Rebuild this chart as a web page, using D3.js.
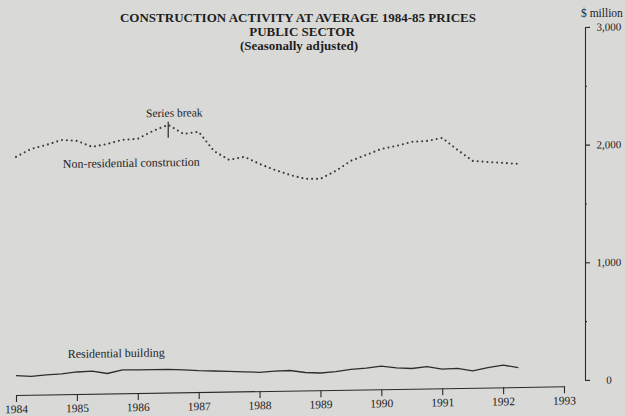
<!DOCTYPE html>
<meta charset="utf-8">
<script src="https://d3js.org/d3.v7.min.js"></script>
<style>
  body { margin: 0; background: #d9d9d7; }
  text { font-family: "Liberation Serif", "Times New Roman", serif; fill: #1e1e1e; }
</style>
<div id="chart"></div>
<script>
// quarterly observations, 1984 to mid 1992
var quarters = [1984.00, 1984.25, 1984.50, 1984.75, 1985.00, 1985.25, 1985.50, 1985.75,
                1986.00, 1986.25, 1986.50, 1986.75, 1987.00, 1987.25, 1987.50, 1987.75,
                1988.00, 1988.25, 1988.50, 1988.75, 1989.00, 1989.25, 1989.50, 1989.75,
                1990.00, 1990.25, 1990.50, 1990.75, 1991.00, 1991.25, 1991.50, 1991.75,
                1992.00, 1992.25];
var nonResidential = [1972, 2038, 2070, 2110, 2100, 2047, 2070, 2103, 2109, 2175, 2224, 2145,
                      2161, 1996, 1918, 1942, 1880, 1827, 1782, 1747, 1745, 1810, 1894, 1942,
                      1991, 2015, 2047, 2053, 2076, 1973, 1877, 1866, 1856, 1846];
var residential = [114, 104, 115, 122, 136, 142, 119, 147, 145, 145, 146, 139,
                   131, 126, 120, 114, 109, 116, 120, 101, 95, 105, 121, 131,
                   146, 128, 121, 134, 112, 115, 92, 119, 137, 114];
var yearTicks = [1984, 1985, 1986, 1987, 1988, 1989, 1990, 1991, 1992, 1993];
var valueTicks = [0, 1000, 2000, 3000];
var minorTicks = [500, 1500, 2500];
var seriesBreak = 1986.5;

var width = 625, height = 416;

var svg = d3.select("#chart")
    .append("svg")
    .attr("width", width)
    .attr("height", height);

// title (not part of the skewed plot)
var title = svg.append("g")
    .attr("text-anchor", "middle")
    .style("font-weight", "bold")
    .style("font-size", "13px");
title.append("text").attr("x", 298).attr("y", 22).text("CONSTRUCTION ACTIVITY AT AVERAGE 1984-85 PRICES");
title.append("text").attr("x", 302).attr("y", 36).text("PUBLIC SECTOR");
title.append("text").attr("x", 299).attr("y", 50).text("(Seasonally adjusted)");

// the printed page is a little off square
var plot = svg.append("g")
    .attr("transform", "translate(585,0) skewY(-0.9) translate(-585,0)");

var x = d3.scaleLinear()
    .domain([1984, 1993])
    .range([16, 564]);

var y = d3.scaleLinear()
    .domain([0, 3000])
    .range([380, 27]);

// x axis sits a few pixels under the zero line
var xAxis = plot.append("g")
    .attr("transform", "translate(0," + (y(0) + 6) + ")")
    .call(d3.axisBottom(x).tickValues(yearTicks).tickFormat(d3.format("d"))
        .tickSize(7).tickSizeOuter(0).tickPadding(3));
xAxis.selectAll("text").style("font-size", "11.5px");

var yAxis = plot.append("g")
    .attr("transform", "translate(585,0)")
    .call(d3.axisRight(y).tickValues(valueTicks).tickFormat(d3.format(","))
        .tickSize(5).tickSizeOuter(0).tickPadding(7));
yAxis.selectAll("text").style("font-size", "11px").attr("text-anchor", "middle").attr("x", 24);

plot.append("g")
    .attr("transform", "translate(585,0)")
    .call(d3.axisRight(y).tickValues(minorTicks).tickSize(2).tickFormat(""))
    .call(function(g) { g.select(".domain").remove(); });

plot.selectAll(".domain, .tick line")
    .attr("stroke", "#2a2a2a")
    .attr("stroke-width", 1.1);
plot.selectAll(".tick text").attr("fill", "#1e1e1e");

svg.append("text")
    .attr("x", 581)
    .attr("y", 17)
    .style("font-size", "11.5px")
    .text("$ million");

var line = function(values) {
    return d3.line()
        .x(function(d, i) { return x(quarters[i]); })
        .y(function(d) { return y(d); })(values);
};

plot.append("path")
    .attr("d", line(nonResidential))
    .attr("fill", "none")
    .attr("stroke", "#3a3a3a")
    .attr("stroke-width", 2.1)
    .attr("stroke-linecap", "round")
    .attr("stroke-dasharray", "0,4.9");

plot.append("path")
    .attr("d", line(residential))
    .attr("fill", "none")
    .attr("stroke", "#2e2e2e")
    .attr("stroke-width", 1.3)
    .attr("stroke-linejoin", "round");

// series break marker
var breakVal = nonResidential[quarters.indexOf(seriesBreak)];
plot.append("line")
    .attr("x1", x(seriesBreak)).attr("x2", x(seriesBreak))
    .attr("y1", y(breakVal) - 3).attr("y2", y(breakVal) + 13)
    .attr("stroke", "#2a2a2a")
    .attr("stroke-width", 1.2);

plot.append("text")
    .attr("x", x(1986.6))
    .attr("y", y(breakVal) - 8)
    .attr("text-anchor", "middle")
    .style("font-size", "11.5px")
    .text("Series break");

plot.append("text")
    .attr("x", x(1984.77))
    .attr("y", y(1872))
    .style("font-size", "12px")
    .text("Non-residential construction");

plot.append("text")
    .attr("x", x(1984.85))
    .attr("y", y(256))
    .style("font-size", "12px")
    .text("Residential building");
</script>
